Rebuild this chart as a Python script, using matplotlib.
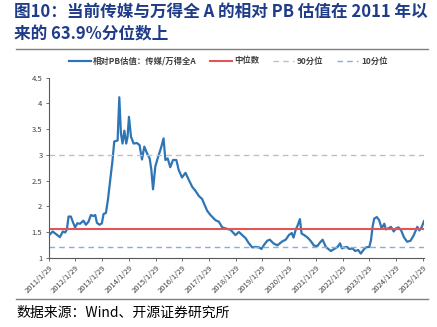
import numpy as np
import pandas as pd
import matplotlib
matplotlib.use("Agg")
import matplotlib.pyplot as plt
from matplotlib.lines import Line2D

plt.rcParams['font.family'] = ['Noto Sans CJK SC', 'DejaVu Sans']

# relative PB of media vs Wind All A
dates = ["2011-02-05", "2011-03-24", "2011-05-08", "2011-07-01", "2011-08-10", "2011-09-10",
         "2011-10-05", "2011-10-27", "2011-11-28", "2012-01-01", "2012-01-25", "2012-02-25",
         "2012-04-01", "2012-05-18", "2012-06-20", "2012-07-26", "2012-08-28", "2012-10-01",
         "2012-10-26", "2012-11-18", "2012-12-23", "2013-01-25", "2013-02-17", "2013-03-21",
         "2013-04-17", "2013-05-19", "2013-06-20", "2013-07-13", "2013-08-28", "2013-09-20",
         "2013-10-12", "2013-11-03", "2013-11-28", "2013-12-24", "2014-01-11", "2014-01-30",
         "2014-02-27", "2014-04-04", "2014-05-19", "2014-06-24", "2014-07-27", "2014-08-28",
         "2014-10-04", "2014-11-09", "2014-12-02", "2014-12-25", "2015-01-25", "2015-02-26",
         "2015-04-12", "2015-05-18", "2015-06-12", "2015-07-13", "2015-08-18", "2015-09-24",
         "2015-11-09", "2015-12-10", "2016-01-25", "2016-03-13", "2016-04-28", "2016-06-12",
         "2016-07-27", "2016-09-12", "2016-10-27", "2016-11-28", "2017-01-04", "2017-02-17",
         "2017-04-26", "2017-06-12", "2017-07-27", "2017-09-12", "2017-11-20", "2018-01-25",
         "2018-03-13", "2018-04-28", "2018-06-12", "2018-07-27", "2018-09-12", "2018-10-27",
         "2018-12-13", "2019-01-15", "2019-02-20", "2019-04-04", "2019-05-10", "2019-06-27",
         "2019-08-20", "2019-10-30", "2019-12-13", "2020-01-25", "2020-03-05", "2020-03-28",
         "2020-04-29", "2020-05-22", "2020-06-24", "2020-07-16", "2020-08-21", "2020-10-08",
         "2020-11-21", "2021-01-04", "2021-02-20", "2021-03-28", "2021-04-30", "2021-06-13",
         "2021-08-21", "2021-10-05", "2021-11-21", "2021-12-24", "2022-01-19", "2022-02-20",
         "2022-03-28", "2022-04-29", "2022-06-14", "2022-07-19", "2022-08-29", "2022-10-04",
         "2022-11-09", "2022-12-12", "2023-01-29", "2023-02-20", "2023-03-14", "2023-04-05",
         "2023-05-11", "2023-06-12", "2023-07-16", "2023-08-21", "2023-09-12", "2023-10-15",
         "2023-11-21", "2023-12-28", "2024-01-29", "2024-03-02", "2024-04-08", "2024-05-15",
         "2024-06-28", "2024-08-14", "2024-09-28", "2024-11-14", "2024-12-13", "2025-01-15",
         "2025-02-13"]
rel_pb = [1.44, 1.51, 1.46, 1.40, 1.51, 1.49,
          1.55, 1.80, 1.80, 1.67, 1.59, 1.67,
          1.66, 1.72, 1.64, 1.70, 1.83, 1.81,
          1.83, 1.68, 1.64, 1.67, 1.85, 1.87,
          2.12, 2.51, 2.90, 3.26, 3.28, 4.12,
          3.42, 3.22, 3.47, 3.22, 3.35, 3.74,
          3.35, 3.22, 3.23, 3.19, 2.91, 3.16,
          3.03, 2.93, 2.71, 2.33, 2.77, 2.93,
          3.13, 3.32, 2.90, 2.93, 2.76, 2.90,
          2.90, 2.71, 2.56, 2.65, 2.51, 2.38,
          2.30, 2.20, 2.14, 2.03, 1.91, 1.83,
          1.73, 1.70, 1.59, 1.57, 1.54, 1.44,
          1.50, 1.44, 1.38, 1.28, 1.20, 1.21,
          1.20, 1.17, 1.25, 1.33, 1.35, 1.28,
          1.24, 1.32, 1.35, 1.44, 1.48, 1.39,
          1.55, 1.62, 1.75, 1.47, 1.44, 1.39,
          1.32, 1.23, 1.23, 1.30, 1.35, 1.21,
          1.13, 1.17, 1.21, 1.28, 1.18, 1.20,
          1.21, 1.17, 1.18, 1.13, 1.15, 1.08,
          1.15, 1.20, 1.21, 1.34, 1.60, 1.76,
          1.79, 1.73, 1.57, 1.66, 1.55, 1.57,
          1.60, 1.51, 1.57, 1.59, 1.53, 1.40,
          1.31, 1.33, 1.44, 1.60, 1.53, 1.60,
          1.71]

median_val = 1.565
p90_val = 3.0
p10_val = 1.21

tick_dates = [f"{y}-01-29" for y in range(2011, 2026)]
tick_labels = [f"{y}/1/29" for y in range(2011, 2026)]
y_ticks = [1, 1.5, 2, 2.5, 3, 3.5, 4, 4.5]
y_labels = ["1", "1.5", "2", "2.5", "3", "3.5", "4", "4.5"]

x = pd.to_datetime(dates)

fig = plt.figure(figsize=(4.37, 3.27), dpi=100)
ax = fig.add_axes([48.7 / 437, 1 - 257.7 / 327, (424 - 48.7) / 437, 180 / 327])

ax.plot(x, rel_pb, color="#2E75B6", lw=1.6, label="相对PB估值：传媒/万得全A")
ax.axhline(median_val, color="#E05555", lw=1.5, label="中位数")
ax.axhline(p90_val, color="#BFBFBF", lw=1.0, ls=(0, (4, 3)), label="90分位")
ax.axhline(p10_val, color="#8EA9DB", lw=1.0, ls=(0, (4, 3)), label="10分位")

ax.set_ylim(1, 4.5)
ax.set_yticks(y_ticks)
ax.set_yticklabels(y_labels, fontsize=5.5, color="#404040")
ax.set_xlim(pd.Timestamp("2011-01-29"), pd.Timestamp("2025-02-14"))
ax.set_xticks(pd.to_datetime(tick_dates))
ax.set_xticklabels(tick_labels, fontsize=5.5, rotation=45, ha="right",
                   rotation_mode="anchor", color="#404040")
ax.tick_params(axis="both", length=2.5, width=0.6, color="#595959", pad=2)
for s in ["top", "right"]:
    ax.spines[s].set_visible(False)
for s in ["left", "bottom"]:
    ax.spines[s].set_color("#595959")
    ax.spines[s].set_linewidth(0.8)

leg = fig.legend(loc="center", bbox_to_anchor=(0.522, 1 - 61 / 327), ncol=4, frameon=False,
                 fontsize=6, handlelength=2.6, columnspacing=1.6, handletextpad=0.3)
for t in leg.get_texts():
    t.set_color("#404040")
    t.set_fontweight("bold")

title_color = "#1F3C88"
fig.text(14 / 437, 1 - 12 / 327, "图10：当前传媒与万得全 A 的相对 PB 估值在 2011 年以",
         fontsize=12, fontweight="bold", color=title_color, va="center")
fig.text(14 / 437, 1 - 34 / 327, "来的 63.9%分位数上",
         fontsize=12, fontweight="bold", color=title_color, va="center")

fig.add_artist(Line2D([16 / 437, 428 / 437], [1 - 49 / 327, 1 - 49 / 327],
                      color="#7F7F7F", lw=1.0))
fig.add_artist(Line2D([16 / 437, 428 / 437], [1 - 299 / 327, 1 - 299 / 327],
                      color="#7F7F7F", lw=1.0))
fig.text(16 / 437, 1 - 313 / 327, "数据来源：Wind、开源证券研究所",
         fontsize=10, color="#000000", va="center")

fig.savefig("out.png", dpi=100)
